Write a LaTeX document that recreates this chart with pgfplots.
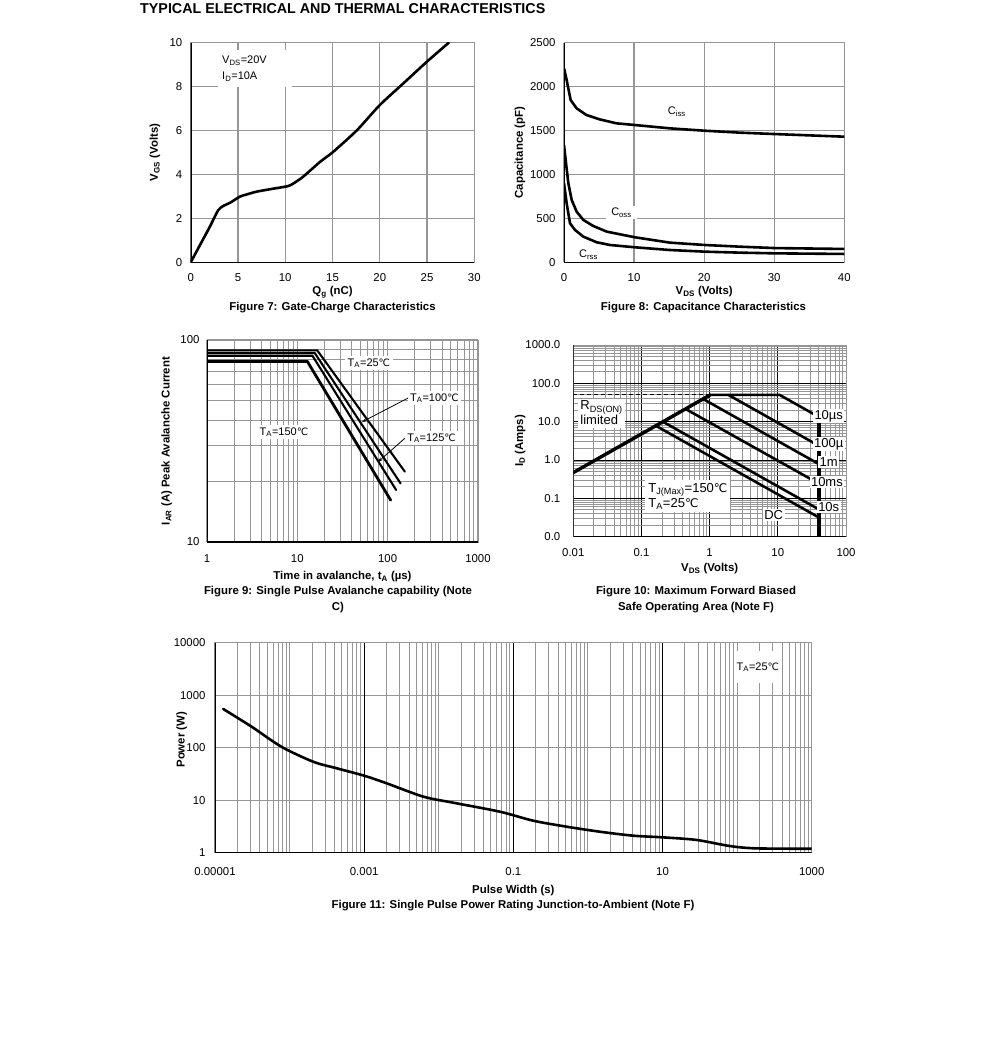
\documentclass[border=0pt]{standalone}
\usepackage{fontspec}
\setmainfont{Liberation Sans}
\newfontfamily\dejavu[Scale=0.92]{DejaVu Sans}
\usepackage{pgfplots}
\pgfplotsset{compat=1.18}
\usetikzlibrary{arrows.meta}
\definecolor{gridgray}{RGB}{150,150,150}
\newcommand{\degC}{{\dejavu\char"2103}}
\newcommand{\tickfont}{\fontsize{11.4bp}{13bp}\selectfont}
\newcommand{\labfont}{\fontsize{11.4bp}{13bp}\selectfont\bfseries}
\newcommand{\capfont}{\fontsize{11.4bp}{16bp}\selectfont\bfseries}
\newcommand{\annfont}{\fontsize{11bp}{16bp}\selectfont}
\newcommand{\bigann}{\fontsize{13bp}{15bp}\selectfont}
\pgfplotsset{
  base/.style={scale only axis, anchor=south west, grid=major,
    tick style={draw=none}, major tick length=0pt, minor tick length=0pt,
    major grid style={gridgray, line width=1.2bp},
    minor grid style={gridgray, line width=1bp},
    axis line style={gridgray, line width=1bp},
    tick label style={font=\tickfont},
    label style={font=\labfont, anchor=center},
    /pgf/number format/assume math mode=true, /pgf/number format/1000 sep={}, scaled ticks=false},
  curve/.style={black, line width=2.6bp, line join=round, line cap=round},
}
\begin{document}
\begin{tikzpicture}
\path[use as bounding box] (0,0) rectangle (991bp,-1062bp);
\node[anchor=west, font=\fontsize{14.3bp}{16bp}\selectfont\bfseries, inner sep=0pt] at (140bp,-9bp) {TYPICAL ELECTRICAL AND THERMAL CHARACTERISTICS};

% ---------- Figure 7 ----------
\begin{axis}[base, at={(190.7bp,-262.3bp)}, width=283.6bp, height=219.6bp,
  xmin=0, xmax=30, ymin=0, ymax=10,
  xtick={0,5,10,15,20,25,30}, ytick={0,2,4,6,8,10},
  xticklabel style={yshift=-8bp}, yticklabel style={xshift=-5bp},
  xlabel={Q\textsubscript{g} (nC)}, ylabel={V\textsubscript{GS} (Volts)},
  xlabel style={at={(axis description cs:0.5,-0.137)}},
  ylabel style={at={(axis description cs:-0.126,0.5)}}]
\addplot[curve, smooth, tension=0.4] coordinates {(0,0) (1,0.8) (2,1.6) (2.92,2.38) (3.5,2.58) (4.16,2.71) (5.2,2.99) (6,3.1) (7,3.22) (8.7,3.35) (10.3,3.47) (10.9,3.6) (11.9,3.9) (13.7,4.58) (15.1,5.04) (17.6,6.02) (20,7.16) (22.5,8.15) (25,9.14) (27.3,10)};
\node[fill=white, anchor=north west, align=left, font=\annfont, text width=66bp, inner xsep=4bp, inner ysep=6bp] at (axis cs:2.89,9.67) {V\textsubscript{DS}=20V\\I\textsubscript{D}=10A};
\draw[black, line width=1.6bp] (rel axis cs:0,1) -- (rel axis cs:0,0) -- (rel axis cs:1,0);
\end{axis}
\node[font=\capfont] at (332.5bp,-307.3bp) {Figure 7: Gate-Charge Characteristics};

% ---------- Figure 8 ----------
\begin{axis}[base, at={(564bp,-262.3bp)}, width=280.3bp, height=219.6bp,
  xmin=0, xmax=40, ymin=0, ymax=2500,
  xtick={0,10,20,30,40}, ytick={0,500,1000,1500,2000,2500},
  yticklabels={0,500,1000,1500,2000,2500},
  xticklabel style={yshift=-8bp}, yticklabel style={xshift=-5bp},
  xlabel={V\textsubscript{DS} (Volts)}, ylabel={Capacitance (pF)},
  xlabel style={at={(axis description cs:0.5,-0.134)}},
  ylabel style={at={(axis description cs:-0.157,0.5)}}]
\addplot[curve] coordinates {(0,2208) (0.38,2075) (0.95,1847) (1.8,1753) (3.2,1677) (5.1,1627) (7.5,1582) (10.1,1563) (15.1,1525) (20.1,1498) (25.1,1476) (30.1,1460) (40,1430)};
\addplot[curve] coordinates {(0,1335) (0.29,1127) (0.62,899) (1.1,709) (1.8,577) (2.76,482) (4.19,413) (6.1,349) (10.1,285) (15.1,224) (20.1,197) (25.1,178) (30.1,162) (40,152)};
\addplot[curve] coordinates {(0,899) (0.38,671) (0.86,444) (1.57,368) (2.76,292) (4.66,228) (6.57,197) (10.1,171) (15.1,140) (20.1,121) (25.1,110) (30.1,102) (40,95)};
\node[font=\annfont] at (axis cs:16.1,1713) {C\textsubscript{iss}};
\node[font=\annfont, fill=white, inner xsep=5bp, inner ysep=2bp] at (axis cs:8.2,565) {C\textsubscript{oss}};
\node[font=\annfont] at (axis cs:3.5,83) {C\textsubscript{rss}};
\draw[black, line width=1.6bp] (rel axis cs:0,1) -- (rel axis cs:0,0) -- (rel axis cs:1,0);
\end{axis}
\node[font=\capfont] at (703.5bp,-307.3bp) {Figure 8: Capacitance Characteristics};

% ---------- Figure 9 ----------
\begin{axis}[base, at={(207bp,-542bp)}, width=271bp, height=202bp,
  xmode=log, ymode=log, xmin=1, xmax=1000, ymin=10, ymax=100,
  grid=both, major grid style={gridgray, line width=1.1bp},
  xtick={1,10,100,1000}, xticklabels={1,10,100,1000},
  ytick={10,100}, yticklabels={10,100},
  minor xtick={2,3,4,5,6,7,8,9,20,30,40,50,60,70,80,90,200,300,400,500,600,700,800,900},
  extra y ticks={20,30,40,50,60,70,80,90}, extra y tick labels={},
  extra y tick style={ymajorgrids=true, major grid style={gridgray, line width=1bp}},
  xticklabel style={yshift=-9bp}, yticklabel style={xshift=-4bp},
  xlabel={Time in avalanche, t\textsubscript{A} (µs)}, ylabel={I\textsubscript{AR} (A) Peak Avalanche Current},
  xlabel style={at={(axis description cs:0.5,-0.172)}},
  ylabel style={at={(axis description cs:-0.149,0.5)}}]
\addplot[curve, line width=2.1bp] coordinates {(1,88.9) (16.6,88.9) (155,22.3)};
\addplot[curve, line width=2.1bp] coordinates {(1,86.2) (15.6,86.2) (139,19.5)};
\addplot[curve, line width=2.1bp] coordinates {(1,83.6) (14.7,83.6) (124,18.1)};
\addplot[curve, line width=2.8bp] coordinates {(1,78.4) (12.9,78.4) (108,16.1)};
\node[font=\annfont, fill=white, inner sep=2.5bp] at (axis cs:62,76.9) {T\textsubscript{A}=25\degC};
\node[font=\annfont, fill=white, inner sep=2.5bp] at (axis cs:7.1,35) {T\textsubscript{A}=150\degC};
\draw[-{Stealth[length=5bp,width=3.5bp]}, line width=0.8bp] (axis cs:168,51.6) -- (axis cs:52,39.3);
\draw[-{Stealth[length=5bp,width=3.5bp]}, line width=0.8bp] (axis cs:156,32.7) -- (axis cs:78,24.9);
\node[font=\annfont, fill=white, inner sep=2bp, anchor=west] at (axis cs:168,51.6) {T\textsubscript{A}=100\degC};
\node[font=\annfont, fill=white, inner sep=2bp, anchor=west] at (axis cs:156,32.7) {T\textsubscript{A}=125\degC};
\draw[black, line width=1.6bp] (rel axis cs:0,1) -- (rel axis cs:0,0) -- (rel axis cs:1,0);
\end{axis}
\node[font=\capfont, align=center] at (338bp,-600bp) {Figure 9: Single Pulse Avalanche capability (Note\\C)};

% ---------- Figure 10 ----------
\begin{axis}[base, at={(573.3bp,-536.7bp)}, width=272.7bp, height=191.7bp,
  xmode=log, ymode=log, xmin=0.01, xmax=100, ymin=0.01, ymax=1000,
  grid=both, major grid style={black, line width=0.9bp},
  minor grid style={gridgray, line width=1bp},
  xtick={0.01,0.1,1,10,100}, xticklabels={0.01,0.1,1,10,100},
  ytick={0.01,0.1,1,10,100,1000}, yticklabels={0.0,0.1,1.0,10.0,100.0,1000.0},
  xticklabel style={yshift=-8.5bp}, yticklabel style={xshift=-9.5bp},
  xlabel={V\textsubscript{DS} (Volts)}, ylabel={I\textsubscript{D} (Amps)},
  xlabel style={at={(axis description cs:0.5,-0.165)}},
  ylabel style={at={(axis description cs:-0.195,0.5)}}]
\addplot[black, line width=1bp, dash pattern=on 4bp off 3bp] coordinates {(0.01,50) (1.02,50)};
\addplot[curve, line width=3.4bp] coordinates {(0.01,0.47) (1.02,50)};
\addplot[curve] coordinates {(1.02,50) (10.6,50) (40,13.3)};
\addplot[curve] coordinates {(1.88,50) (40,2.35)};
\addplot[curve] coordinates {(0.8,39.2) (40,0.784)};
\addplot[curve] coordinates {(0.44,21.6) (40,0.2425)};
\addplot[curve] coordinates {(0.205,10.05) (40,0.0515)};
\addplot[curve] coordinates {(0.161,7.9) (40,0.0318)};
\addplot[black, line width=3.6bp] coordinates {(40,0.01) (40,13.3)};
\node[font=\bigann, fill=white, align=left, inner sep=2.5bp] at (axis cs:0.026,16.8) {R\textsubscript{DS(ON)}\\limited};
\node[font=\bigann, fill=white, align=left, inner sep=3bp] at (axis cs:0.48,0.115) {T\textsubscript{J(Max)}=150\degC\\T\textsubscript{A}=25\degC};
\node[font=\bigann, fill=white, inner sep=1.5bp] at (axis cs:55.8,14.1) {10µs};
\node[font=\bigann, fill=white, inner sep=1.5bp] at (axis cs:55.8,2.62) {100µ};
\node[font=\bigann, fill=white, inner sep=1.5bp] at (axis cs:55.8,0.887) {1m};
\node[font=\bigann, fill=white, inner sep=1.5bp] at (axis cs:52.5,0.267) {10ms};
\node[font=\bigann, fill=white, inner sep=1.5bp] at (axis cs:55.8,0.0596) {10s};
\node[font=\bigann, fill=white, inner sep=1.5bp] at (axis cs:8.7,0.0368) {DC};
\draw[black, line width=1.6bp] (rel axis cs:0,1) -- (rel axis cs:0,0) -- (rel axis cs:1,0);
\end{axis}
\node[font=\capfont, align=center] at (696bp,-600bp) {Figure 10: Maximum Forward Biased\\Safe Operating Area (Note F)};

% ---------- Figure 11 ----------
\begin{axis}[base, at={(215bp,-852.7bp)}, width=596.7bp, height=210bp,
  xmode=log, ymode=log, xmin=1e-5, xmax=1000, ymin=1, ymax=10000,
  xmajorgrids=true, xminorgrids=true, ymajorgrids=true, yminorgrids=false,
  major grid style={gridgray, line width=1.1bp},
  minor grid style={gridgray, line width=1bp},
  xtick={1e-5,1e-3,0.1,10,1000}, xticklabels={0.00001,0.001,0.1,10,1000},
  ytick={1,10,100,1000,10000}, yticklabels={1,10,100,1000,10000},
  extra x ticks={1e-3,0.1,10}, extra x tick labels={},
  extra x tick style={grid=major, major grid style={black, line width=0.9bp}},
  minor xtick={2e-5,3e-5,4e-5,5e-5,6e-5,7e-5,8e-5,9e-5,1e-4,2e-4,3e-4,4e-4,5e-4,6e-4,7e-4,8e-4,9e-4,2e-3,3e-3,4e-3,5e-3,6e-3,7e-3,8e-3,9e-3,1e-2,2e-2,3e-2,4e-2,5e-2,6e-2,7e-2,8e-2,9e-2,0.2,0.3,0.4,0.5,0.6,0.7,0.8,0.9,1,2,3,4,5,6,7,8,9,20,30,40,50,60,70,80,90,100,200,300,400,500,600,700,800,900},
  xticklabel style={yshift=-11.5bp}, yticklabel style={xshift=-6bp},
  xlabel={Pulse Width (s)}, ylabel={Power (W)},
  xlabel style={at={(axis description cs:0.5,-0.182)}},
  ylabel style={at={(axis description cs:-0.056,0.538)}}]
\addplot[curve, smooth, tension=0.5] coordinates {(1.29e-5,546) (3.1e-5,251) (7.8e-5,104) (2.08e-4,54) (4.3e-4,40.5) (1e-3,29.3) (2e-3,21) (6.2e-3,11.7) (1.57e-2,8.96) (6.6e-2,6.04) (0.185,4.07) (0.518,3.13) (1.45,2.51) (4.05,2.11) (10.2,1.96) (28.6,1.75) (80,1.34) (180,1.21) (1000,1.19)};
\node[font=\annfont, fill=white, minimum width=48bp, minimum height=32bp, inner sep=2bp] at (axis cs:190,3443) {T\textsubscript{A}=25\degC};
\draw[black, line width=1.6bp] (rel axis cs:0,1) -- (rel axis cs:0,0) -- (rel axis cs:1,0);
\end{axis}
\node[font=\capfont] at (513bp,-906bp) {Figure 11: Single Pulse Power Rating Junction-to-Ambient (Note F)};
\end{tikzpicture}
\end{document}
